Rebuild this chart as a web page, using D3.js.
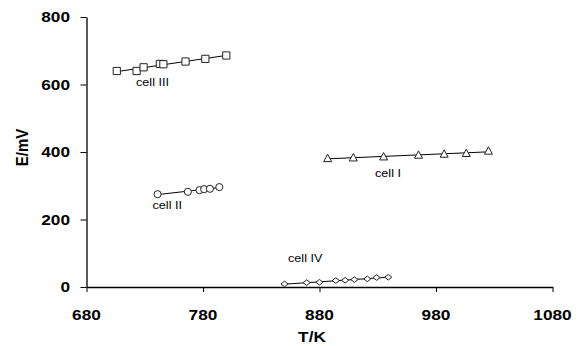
<!DOCTYPE html>
<html><head><meta charset="utf-8">
<script src="https://cdn.jsdelivr.net/npm/d3@7"></script>
<style>body{margin:0;background:#fff}svg{display:block}</style>
</head><body>
<script>
// ---- data ----
const cell1T = [887, 909, 935, 965, 987, 1006, 1025];
const cell1E = [381, 383, 386, 391, 394, 396, 403];
const cell2T = [741, 767, 777, 781, 786, 794];
const cell2E = [275, 282, 287, 290, 291, 296];
const cell3T = [706, 723, 729, 743, 746, 765, 782, 800];
const cell3E = [640, 640, 651, 661, 660, 668, 676, 686];
const cell4T = [850, 869, 880, 894, 902, 910, 921, 929, 939];
const cell4E = [9, 13, 14, 19, 20, 22, 24, 28, 29];
const seriesNames = ["cell I", "cell II", "cell III", "cell IV"];
const xTicks = [680, 780, 880, 980, 1080];
const yTicks = [0, 200, 400, 600, 800];

const W = 586, H = 346;
const FONT = "'Liberation Sans', Arial, sans-serif";
const svg = d3.select("body").append("svg").attr("width", W).attr("height", H);

const x = d3.scaleLinear().domain([680, 1080]).range([86.5, 552.5]);
const y = d3.scaleLinear().domain([0, 800]).range([287, 17]);

// axes
const xAxis = svg.append("g").attr("transform", `translate(0,${y(0)})`)
  .call(d3.axisBottom(x).tickValues(xTicks).tickSize(5).tickSizeOuter(0).tickFormat(""));
const yAxis = svg.append("g").attr("transform", `translate(${x(680)},0)`)
  .call(d3.axisLeft(y).tickValues(yTicks).tickSize(6).tickSizeOuter(0).tickFormat(""));
[xAxis, yAxis].forEach(g => {
  g.select(".domain").attr("stroke", "#000").attr("stroke-width", 1.3);
  g.selectAll(".tick line").attr("stroke", "#000").attr("stroke-width", 1);
});

const sx = 1.15;
function stretchedText(px, py, txt, anchor, size, weight) {
  svg.append("text")
    .attr("transform", `translate(${px},${py}) scale(${sx},1)`)
    .attr("text-anchor", anchor)
    .attr("font-family", FONT).attr("font-size", size).attr("font-weight", weight)
    .attr("fill", "#000")
    .text(txt);
}
xTicks.forEach(t => stretchedText(x(t), 320, t, "middle", 15, "bold"));
yTicks.forEach(t => stretchedText(70, y(t) + 5.3, t, "end", 15, "bold"));
stretchedText(312, 342, "T/K", "middle", 15, "bold");
svg.append("text")
  .attr("transform", `translate(28,147.5) rotate(-90) scale(1,${sx})`)
  .attr("text-anchor", "middle")
  .attr("font-family", FONT).attr("font-size", 15).attr("font-weight", "bold")
  .text("E/mV");

// series
function fit(T, E) {
  const mx = d3.mean(T), my = d3.mean(E);
  let num = 0, den = 0;
  T.forEach((t, i) => { num += (t - mx) * (E[i] - my); den += (t - mx) * (t - mx); });
  const b = num / den, a = my - b * mx;
  const t0 = d3.min(T), t1 = d3.max(T);
  return [[t0, a + b * t0], [t1, a + b * t1]];
}
const series = [
  {T: cell3T, E: cell3E, shape: "square", label: seriesNames[2], lx: 136, ly: 85.5},
  {T: cell2T, E: cell2E, shape: "circle", label: seriesNames[1], lx: 152.5, ly: 209},
  {T: cell1T, E: cell1E, shape: "triangle", label: seriesNames[0], lx: 375, ly: 176.5},
  {T: cell4T, E: cell4E, shape: "diamond", label: seriesNames[3], lx: 288, ly: 261.5},
];
const line = d3.line().x(d => x(d[0])).y(d => y(d[1]));
function shapePath(s) {
  if (s === "square") return "M-3.6,-3.6H3.6V3.6H-3.6Z";
  if (s === "circle") return d3.symbol(d3.symbolCircle, 40)();
  if (s === "triangle") return "M0,-4.2L4,3.2H-4Z";
  return "M-3.6,0L0,-2.8L3.6,0L0,2.8Z";
}
series.forEach(s => {
  svg.append("path").attr("d", line(fit(s.T, s.E)))
    .attr("stroke", "#000").attr("stroke-width", 1).attr("fill", "none");
  svg.append("g").selectAll("path").data(s.T.map((t, i) => [t, s.E[i]])).join("path")
    .attr("transform", d => `translate(${x(d[0])},${y(d[1])})`)
    .attr("d", shapePath(s.shape))
    .attr("fill", "#fff").attr("stroke", "#222").attr("stroke-width", 1);
  svg.append("text")
    .attr("transform", `translate(${s.lx},${s.ly}) scale(1.1,1)`)
    .attr("font-family", FONT).attr("font-size", 11.5).attr("fill", "#000")
    .text(s.label);
});
</script>
</body></html>
